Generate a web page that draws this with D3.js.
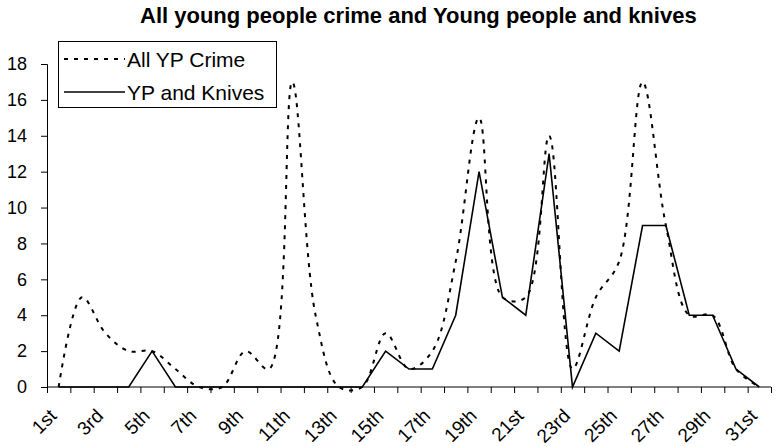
<!DOCTYPE html>
<html>
<head>
<meta charset="utf-8">
<script src="https://cdn.jsdelivr.net/npm/d3@7"></script>
<style>
  body { margin: 0; background: #fff; }
  svg { font-family: Arial, "Liberation Sans", sans-serif; }
</style>
</head>
<body>
<svg width="776" height="446"></svg>
<script>
var days = ['1st', '2nd', '3rd', '4th', '5th', '6th', '7th', '8th', '9th', '10th',
  '11th', '12th', '13th', '14th', '15th', '16th', '17th', '18th', '19th', '20th',
  '21st', '22nd', '23rd', '24th', '25th', '26th', '27th', '28th', '29th', '30th', '31st']
var allCrime = [0, 5, 3, 2, 2, 1, 0, 0, 2, 1, 17, 4, 0, 0, 3, 1, 2, 7, 15, 5, 5, 14, 1, 5, 7, 17, 9, 4, 4, 1, 0]
var knives = [0, 0, 0, 0, 2, 0, 0, 0, 0, 0, 0, 0, 0, 0, 2, 1, 1, 4, 12, 5, 4, 13, 0, 3, 2, 9, 9, 4, 4, 1, 0]
var yTicks = [0, 2, 4, 6, 8, 10, 12, 14, 16, 18]
var seriesNames = ['All YP Crime', 'YP and Knives']

var config = {
  left: 47, right: 771, top: 64, bottom: 387
}

var svg = d3.select('svg')

var x = d3.scaleBand().domain(days).range([config.left, config.right])
var xEdge = d3.scaleLinear().domain([0, days.length]).range([config.left, config.right])
var y = d3.scaleLinear().domain([0, 18]).range([config.bottom, config.top])

svg.append('text')
    .attr('x', 140)
    .attr('y', 23)
    .style('font-weight', 'bold')
    .style('font-size', '22px')
    .text('All young people crime and Young people and knives')

// y axis
var yAxis = svg.append('g')
    .attr('transform', `translate(${config.left}, 0)`)
    .call(d3.axisLeft(y).tickValues(yTicks).tickSize(6).tickPadding(14))
yAxis.selectAll('text').style('font-size', '18px').attr('fill', '#000').style('font-family', 'Arial, "Liberation Sans", sans-serif')

// x axis: ticks on category edges
svg.append('g')
    .attr('transform', `translate(0, ${config.bottom})`)
    .call(d3.axisBottom(xEdge).tickValues(d3.range(0, days.length + 1)).tickSize(6).tickFormat(''))
    .call(g => g.select('.domain').attr('d', `M${config.left},0H${config.right}`))

var xLabels = svg.append('g')
    .attr('transform', `translate(0, ${config.bottom})`)
    .call(d3.axisBottom(x).tickValues(days.filter((d, i) => i % 2 === 0)).tickSize(0))
xLabels.select('.domain').remove()
xLabels.selectAll('text')
    .style('font-size', '19px')
    .style('font-family', 'Arial, "Liberation Sans", sans-serif')
    .attr('fill', '#000')
    .attr('text-anchor', 'end')
    .attr('dy', null)
    .attr('y', 0)
    .attr('transform', 'translate(-1, 30) rotate(-45)')

svg.selectAll('.domain, .tick line').attr('stroke', '#000')

var cx = d => x(d) + x.bandwidth() / 2

var crimeLine = d3.line()
    .x((d, i) => cx(days[i]))
    .y(d => y(d))
    .curve(d3.curveCatmullRom.alpha(0.5))

var knifeLine = d3.line()
    .x((d, i) => cx(days[i]))
    .y(d => y(d))

svg.append('path')
    .attr('d', crimeLine(allCrime))
    .attr('fill', 'none')
    .attr('stroke', '#000')
    .attr('stroke-width', 2)
    .attr('stroke-dasharray', '4,6')

svg.append('path')
    .attr('d', knifeLine(knives))
    .attr('fill', 'none')
    .attr('stroke', '#000')
    .attr('stroke-width', 1.6)

// legend
var legend = svg.append('g')
legend.append('rect')
    .attr('x', 58.5).attr('y', 41.5)
    .attr('width', 218).attr('height', 66)
    .attr('fill', '#fff').attr('stroke', '#000')

var rows = legend.selectAll('g.row')
    .data(seriesNames)
    .enter()
    .append('g')
    .attr('class', 'row')
    .attr('transform', (d, i) => `translate(0, ${59 + i * 33})`)

rows.append('line')
    .attr('x1', 64).attr('x2', 125)
    .attr('stroke', '#000')
    .attr('stroke-width', (d, i) => i === 0 ? 2 : 1.6)
    .attr('stroke-dasharray', (d, i) => i === 0 ? '4,6' : null)

rows.append('text')
    .attr('x', 127)
    .attr('dy', '0.36em')
    .style('font-size', '21px')
    .text(d => d)
</script>
</body>
</html>
